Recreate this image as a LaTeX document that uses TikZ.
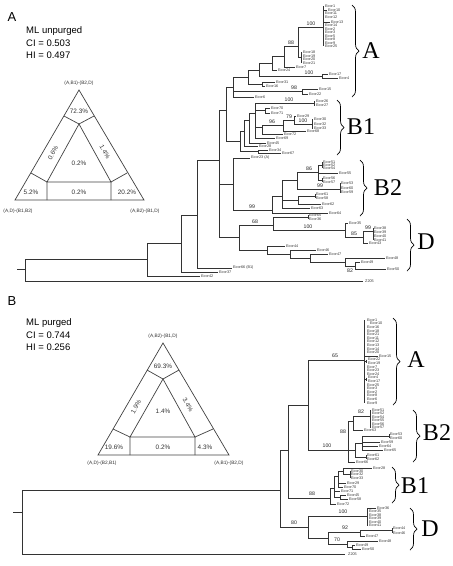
\documentclass[tikz,border=0pt]{standalone}
\usepackage{fontspec}
\setmainfont{Liberation Sans}
\newfontfamily\cladefont{Liberation Serif}
\usetikzlibrary{decorations.pathreplacing}

\begin{document}
\begin{tikzpicture}
[x=1pt,y=-1pt,
  branch/.style={line width=0.8pt,draw=black!80},
  leaf/.style={anchor=west,inner sep=0pt,text=black!80,font=\fontsize{3.8}{4}\selectfont},
  boot/.style={inner sep=0pt,text=black!85,font=\fontsize{5.2}{6}\selectfont},
  tri/.style={line width=0.7pt,draw=black!75},
  pct/.style={inner sep=0pt,text=black!80,font=\fontsize{6.4}{7}\selectfont},
  corner/.style={inner sep=0pt,text=black!80,font=\fontsize{4.8}{5}\selectfont},
  info/.style={anchor=west,inner sep=0pt,font=\fontsize{9.5}{11}\selectfont},
  panel/.style={inner sep=0pt,font=\fontsize{13}{13}\selectfont},
  group/.style={inner sep=0pt,font=\cladefont\fontsize{24}{24}\selectfont},
  bracket/.style={decorate,decoration={brace,amplitude=7pt},line width=0.7pt}]
\useasboundingbox (0,0) rectangle (453,566);

%% panel A: header
\node[panel] (pA) at (12,17) {A};
\node[info] (mlA) at (26,31) {ML unpurged};
\node[info] (ciA) at (26,43) {CI = 0.503};
\node[info] (hiA) at (26,55) {HI = 0.497};

%% panel A: likelihood triangle
\draw[tri] (79,90) -- (15,200) -- (144,200) -- cycle;
\draw[tri] (79,124) -- (47,182) -- (111,182) -- cycle;
\draw[tri] (79,124) -- (64,116) (79,124) -- (94,116)
  (47,182) -- (31,173) (111,182) -- (127,173)
  (47,182) -- (47,200) (111,182) -- (111,200);
\foreach \val/\x/\y/\r [count=\i] in {72.3\%/79/111/0, 0.6\%/53/153/60,
  1.4\%/105/152/-60, 0.2\%/79/163/0, 5.2\%/31/192/0, 0.2\%/79/192/0, 20.2\%/127/192/0} {
  \node[pct,rotate=\r] (pa\i) at (\x,\y) {\val};
}
\node[corner] (ta) at (79,83) {(A,B1)-(B2,D)};
\node[corner] (tal) at (18,211) {(A,D)-(B1,B2)};
\node[corner] (tar) at (145,211) {(A,B2)-(B1,D)};

%% panel A: tree, horizontal branches
\foreach \y/\xa/\xb in {269/17/25, 281/25/363, 259/25/147, 276/147/200, 243/147/181,
  272/181/218, 215/181/197, 268/197/232, 160/197/219, 110/219/226, 184/219/233,
  237/219/239, 87/226/233, 141/226/240, 77/233/248, 91/233/302, 97/233/254,
  89/302/318, 94/302/308, 70/248/259, 84/248/262, 82/262/275, 86/262/265,
  63/259/272, 76/259/322, 74/322/328, 78/322/338, 56/272/284, 70/272/277,
  46/284/298, 67/284/295, 27/298/323, 57/298/301, 10/323/327, 22/323/330,
  151/240/258, 150/258/268, 153/258/281, 131/240/244, 146/244/258, 120/244/249,
  143/249/266, 113/249/255, 103/255/314, 110/255/265, 108/265/270, 113/265/270,
  127/255/262, 138/255/275, 134/262/283, 125/262/283, 131/283/306, 120/283/294,
  116/294/296, 124/294/312,
  158/233/250, 210/233/272, 196/272/282, 213/272/328, 180/282/297, 200/282/298,
  208/282/310, 196/298/315, 204/298/321, 172/297/318, 189/297/340, 165/318/322,
  173/318/338, 180/318/322,
  225/239/273, 250/239/267, 217/273/308, 230/273/345, 223/345/348, 237/345/363,
  231/363/373, 243/363/368, 246/267/285, 254/267/290, 250/290/316, 258/290/310,
  254/310/328, 262/310/345, 258/345/385, 266/345/355, 262/355/360, 269/355/386} {
  \draw[branch] (\xa,\y) -- (\xb,\y);
}
%% panel A: tree, vertical branches
\foreach \x/\ya/\yb in {25/259/281, 147/243/276, 181/215/272, 197/160/268,
  219/110/237, 226/87/141, 233/77/97, 302/89/94, 248/70/84, 262/82/86, 259/63/76,
  322/74/78, 272/56/70, 284/46/67, 298/27/57, 301/52/63, 323/6/46,
  240/131/151, 258/150/153, 244/120/146, 249/113/143, 255/103/138, 314/101/106,
  265/108/113, 262/125/134, 283/120/131, 294/116/124, 312/119/129,
  233/158/210, 272/196/213, 282/180/208, 298/196/204, 315/194/198, 297/172/189,
  340/183/193, 318/165/180, 322/162/168, 322/178/182,
  239/225/250, 273/217/230, 308/215/219, 345/223/237, 363/231/243, 373/228/240,
  267/246/254, 290/250/258, 310/254/262, 345/258/266, 355/262/269} {
  \draw[branch] (\x,\ya) -- (\x,\yb);
}
%% panel A: strain labels
\foreach \lab/\x/\y [count=\i] in {Ecor1/325/6, Ecor10/328/10, Ecor11/325/13.5,
  Ecor12/325/17, Ecor13/331/22, Ecor14/325/25.5, Ecor2/325/29, Ecor3/325/32.5,
  Ecor5/325/36, Ecor8/325/39.5, Ecor9/325/43, Ecor25/325/46.5,
  Ecor18/303/52, Ecor19/303/55.7, Ecor20/303/59.3, Ecor21/303/63, Ecor7/296/67,
  Ecor24/278/70, Ecor17/329/74, Ecor4/339/78, Ecor31/276/82, Ecor16/266/86,
  Ecor15/319/89, Ecor22/309/94, Ecor6/255/97,
  Ecor26/316/101.5, Ecor27/316/105.5, Ecor70/271/108, Ecor71/271/113,
  Ecor29/297/116, Ecor30/314/119.5, Ecor32/314/124, Ecor33/314/128.5,
  Ecor68/307/131, Ecor72/284/134, Ecor69/276/138, Ecor45/267/143, Ecor28/259/146,
  Ecor34/269/150, Ecor67/282/153, Ecor23 (A)/251/158,
  Ecor51/323/162, Ecor52/323/165, Ecor54/323/168.5, Ecor55/339/173,
  Ecor56/323/178, Ecor57/323/182, Ecor53/341/183.5, Ecor60/341/188,
  Ecor59/341/192.5, Ecor61/316/194, Ecor58/316/198, Ecor62/322/204,
  Ecor63/311/208, Ecor64/329/213,
  Ecor65/309/215, Ecor36/309/219, Ecor35/349/223, Ecor38/374/228.5,
  Ecor39/374/232.3, Ecor40/374/236.1, Ecor41/374/240, Ecor43/369/243,
  Ecor44/286/246, Ecor46/317/250, Ecor47/329/254, Ecor48/386/258,
  Ecor49/361/262, Ecor50/387/269,
  Ecor66 (B1)/233/267.5, Ecor37/219/272.5, Ecor42/201/276.5, Z205/365/281} {
  \node[leaf] (la\i) at (\x,\y) {\lab};
}
%% panel A: bootstrap values
\foreach \val/\x/\y [count=\i] in {100/311/23.5, 88/291/42.5, 100/309/72.5,
  98/294/87.5, 100/289/99.5, 96/272/121.5, 79/289/116.5, 100/303/120.5,
  86/309/168.5, 99/320/185.5, 99/252/206.5, 68/255/221.5, 100/308/226.5,
  99/368/227.5, 85/354/233.5, 82/350/271} {
  \node[boot] (ba\i) at (\x,\y) {\val};
}
%% panel A: groups
\draw[bracket] (352,5) -- (352,97);
\draw[bracket] (337,100) -- (337,155);
\draw[bracket] (360,160) -- (360,216);
\draw[bracket] (407,219) -- (407,271);
\node[group] (gAA) at (371,51) {A};
\node[group] (gAB1) at (361,127) {B1};
\node[group] (gAB2) at (388,188) {B2};
\node[group] (gAD) at (426,242) {D};

%% panel B: header
\node[panel] (pB) at (12,301) {B};
\node[info] (mlB) at (26,323) {ML purged};
\node[info] (ciB) at (26,335) {CI = 0.744};
\node[info] (hiB) at (26,347) {HI = 0.256};

%% panel B: likelihood triangle
\draw[tri] (163,343) -- (98,455) -- (229,455) -- cycle;
\draw[tri] (163,379) -- (130,437) -- (195,437) -- cycle;
\draw[tri] (163,379) -- (147,370) (163,379) -- (179,370)
  (130,437) -- (113,429) (195,437) -- (213,429)
  (130,437) -- (130,455) (195,437) -- (195,455);
\foreach \val/\x/\y/\r [count=\i] in {69.3\%/163/366/0, 1.9\%/136/407/60,
  3.4\%/188/405/-60, 1.4\%/163/411/0, 19.6\%/114/447/0, 0.2\%/163/447/0, 4.3\%/205/447/0} {
  \node[pct,rotate=\r] (pb\i) at (\x,\y) {\val};
}
\node[corner] (tb) at (163,336) {(A,B2)-(B1,D)};
\node[corner] (tbl) at (102,463) {(A,D)-(B2,B1)};
\node[corner] (tbr) at (229,463) {(A,B1)-(B2,D)};

%% panel B: tree, horizontal branches
\foreach \y/\xa/\xb in {512/13/22, 554/22/345, 490/22/280, 450/280/288, 527/280/308,
  405/288/308, 498/288/330, 360/308/364, 450/308/348, 356/364/378, 361.4/364/366,
  379.4/364/366,
  421/348/353, 416/353/370, 430/353/363, 450/348/355, 462/348/355, 443/355/362,
  457/355/366, 436/362/389, 442/362/380, 446/362/378, 450/362/383,
  488/330/334, 504/330/336, 476/334/338, 491/334/340, 497/334/340, 471/338/343,
  483/338/346, 487/338/343, 468/343/372, 474/343/350, 495/340/346, 499/340/348,
  516/308/367, 508/367/376, 538/308/328, 532/328/360, 544/328/347, 530/360/392,
  536/360/365, 541/347/378, 547/347/352, 545/352/355, 549/352/361} {
  \draw[branch] (\xa,\y) -- (\xb,\y);
}
%% panel B: tree, vertical branches
\foreach \x/\ya/\yb in {22/490/554, 280/450/527, 288/405/498, 308/360/450,
  364/320/403, 366/359.6/363.2, 366/377.6/381.2,
  348/421/462, 353/416/430, 370/410/427.5, 355/443/457, 362/436/450,
  389/434/438, 366/455/459,
  330/488/504, 334/476/497, 338/471/487, 343/468/474, 350/471/478, 340/495/499,
  308/516/538, 367/508/525.5, 328/532/544, 360/530/536, 392/528/533,
  347/541/547, 352/545/549} {
  \draw[branch] (\x,\ya) -- (\x,\yb);
}
%% panel B: strain labels
\foreach \lab/\x/\y [count=\i] in {Ecor1/367/320, Ecor10/370/323.6, Ecor16/367/327.2,
  Ecor18/367/330.8, Ecor21/367/334.4, Ecor11/367/338, Ecor12/367/341.6,
  Ecor13/367/345.2, Ecor14/367/348.8, Ecor20/367/352.4, Ecor15/379/356,
  Ecor22/368/359.6, Ecor19/368/363.2, Ecor7/367/366.8, Ecor23/367/370.4,
  Ecor24/367/374, Ecor4/368/377.6, Ecor17/368/381.2, Ecor25/367/384.8,
  Ecor3/367/388.4, Ecor2/367/392, Ecor8/367/395.6, Ecor6/367/399.2, Ecor9/367/402.8,
  Ecor51/372/410, Ecor52/372/413.5, Ecor54/372/417, Ecor55/372/420.5,
  Ecor56/372/424, Ecor57/372/427.5, Ecor63/364/430, Ecor53/390/434,
  Ecor60/390/438, Ecor59/381/442, Ecor64/379/446, Ecor65/384/450,
  Ecor61/367/455, Ecor62/367/459, Ecor66/356/462,
  Ecor28/373/468, Ecor30/351/471, Ecor32/351/474.5, Ecor33/351/478,
  Ecor29/347/483, Ecor70/344/487, Ecor71/341/491, Ecor45/347/495,
  Ecor58/349/499, Ecor72/337/504,
  Ecor36/377/508, Ecor35/369/511.5, Ecor38/369/515, Ecor39/369/518.5,
  Ecor40/369/522, Ecor41/369/525.5, Ecor44/393/528, Ecor46/393/533,
  Ecor47/366/536, Ecor48/379/541, Ecor49/356/545, Ecor50/362/549, Z205/348/554} {
  \node[leaf] (lb\i) at (\x,\y) {\lab};
}
%% panel B: bootstrap values
\foreach \val/\x/\y [count=\i] in {65/335/356, 100/327/446, 88/343/432, 82/361/412,
  88/312/494, 80/294/523, 100/343/512, 92/345/528, 70/337/540} {
  \node[boot] (bb\i) at (\x,\y) {\val};
}
%% panel B: groups
\draw[bracket] (393,318) -- (393,405);
\draw[bracket] (413,410) -- (413,462);
\draw[bracket] (392,467) -- (392,503);
\draw[bracket] (410,508) -- (410,550);
\node[group] (gBA) at (416,360) {A};
\node[group] (gBB2) at (437,433) {B2};
\node[group] (gBB1) at (415,486) {B1};
\node[group] (gBD) at (430,529) {D};
\end{tikzpicture}
\end{document}
